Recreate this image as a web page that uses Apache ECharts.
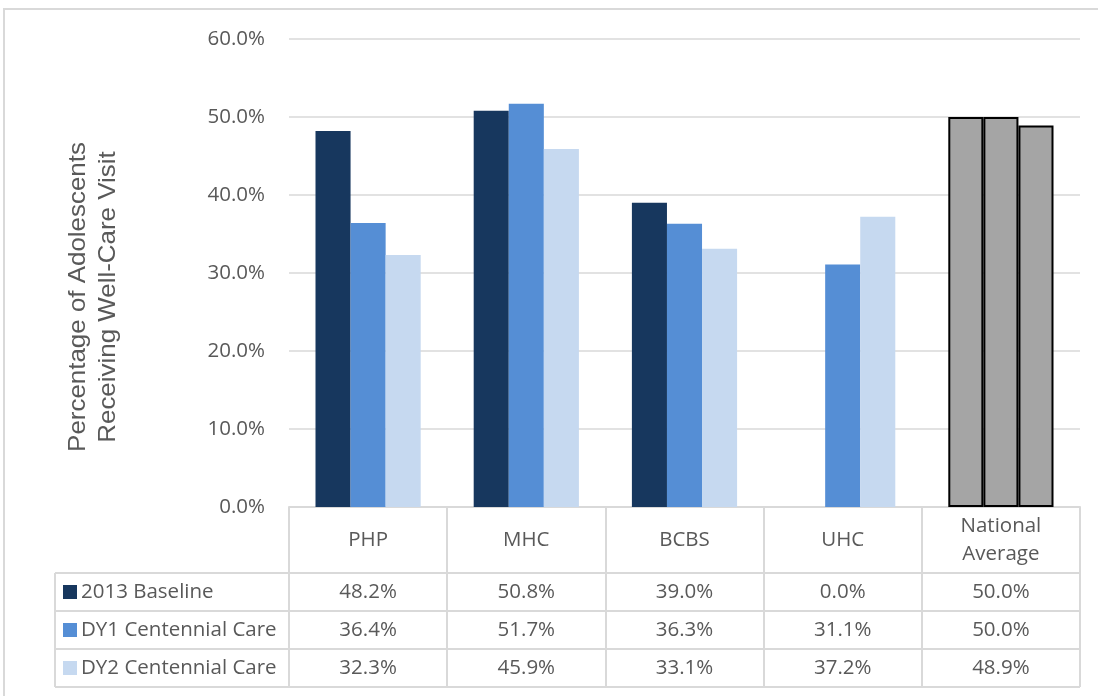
<!DOCTYPE html>
<html>
<head>
<meta charset="utf-8">
<script src="https://cdn.jsdelivr.net/npm/echarts@6/dist/echarts.min.js"></script>
<style>
  html, body { margin: 0; padding: 0; background: #fff; }
  #chart { width: 1098px; height: 696px; }
</style>
</head>
<body>
<div id="chart"></div>
<script>
// 类目
const categories = ['PHP', 'MHC', 'BCBS', 'UHC', 'National Average']
const seriesNames = ['2013 Baseline', 'DY1 Centennial Care', 'DY2 Centennial Care']
// 各系列数值
const baseline = [0.482, 0.508, 0.390, 0.0, 0.500]
const dy1 = [0.364, 0.517, 0.363, 0.311, 0.500]
const dy2 = [0.323, 0.459, 0.331, 0.372, 0.489]
const yTicks = [0, 0.1, 0.2, 0.3, 0.4, 0.5, 0.6]
const yTitle = 'Percentage of Adolescents\nReceiving Well-Care Visit'

const colors = ['#17375e', '#558ed5', '#c6d9f0']
const allValues = [baseline, dy1, dy2]
const textColor = '#595959'
const lineColor = '#d9d9d9'
const font = '"Open Sans", "Noto Sans", sans-serif'
const fontSize = 20.5

const pct = v => (v * 100).toFixed(1) + '%'

const grid = { left: 289, right: 18, top: 39, bottom: 189 }
const rowTop = 573
const rowH = 38

const chart = echarts.init(document.getElementById('chart'))

// 数据表的每一行用一个 x 轴来显示
const rowAxes = allValues.map((vals, i) => ({
  type: 'category',
  data: categories,
  position: 'bottom',
  offset: rowTop - (696 - grid.bottom) + rowH * i + rowH / 2,
  axisLine: { show: false },
  axisTick: { show: false },
  axisLabel: {
    interval: 0,
    margin: 0,
    verticalAlign: 'middle',
    color: textColor,
    fontSize: fontSize,
    fontFamily: font,
    formatter: (value, idx) => pct(vals[idx])
  }
}))

const series = allValues.map((vals, i) => ({
  name: seriesNames[i],
  type: 'bar',
  xAxisIndex: 0,
  barGap: 0,
  barCategoryGap: '33.5%',
  itemStyle: { color: colors[i] },
  data: vals.map((v, j) => {
    if (j === categories.length - 1) {
      return {
        value: v,
        itemStyle: { color: '#a5a5a5', borderColor: '#000', borderWidth: 2 }
      }
    }
    return v
  })
}))

// 表格横线
const tableLines = [0, 1, 2, 3].map(k => ({
  type: 'line',
  shape: { x1: 55, y1: rowTop + rowH * k, x2: 1098 - grid.right, y2: rowTop + rowH * k },
  style: { stroke: lineColor, lineWidth: 2 }
}))

chart.setOption({
  animation: false,
  grid: grid,
  legend: {
    orient: 'vertical',
    left: 63,
    top: rowTop + 7,
    padding: 0,
    itemWidth: 14,
    itemHeight: 14,
    itemGap: 14,
    icon: 'rect',
    selectedMode: false,
    textStyle: { color: textColor, fontSize: fontSize, fontFamily: font, lineHeight: 24, padding: [0, 0, 0, -1] },
    data: seriesNames
  },
  xAxis: [
    {
      type: 'category',
      data: categories,
      axisLine: { show: true, lineStyle: { color: lineColor, width: 2 } },
      axisTick: { show: true, length: 180, lineStyle: { color: lineColor, width: 2 } },
      axisLabel: {
        interval: 0,
        margin: 33,
        verticalAlign: 'middle',
        color: textColor,
        fontSize: fontSize,
        lineHeight: 28,
        fontFamily: font,
        formatter: value => (value.length > 10 ? value.replace(' ', '\n') : value)
      }
    }
  ].concat(rowAxes),
  yAxis: {
    type: 'value',
    min: yTicks[0],
    max: yTicks[yTicks.length - 1],
    interval: 0.1,
    axisLine: { show: false },
    axisTick: { show: false },
    axisLabel: {
      margin: 24,
      color: textColor,
      fontSize: fontSize,
      fontFamily: font,
      formatter: v => pct(v)
    },
    splitLine: { lineStyle: { color: lineColor, width: 1.5 } }
  },
  graphic: [
    {
      type: 'rect',
      shape: { x: 4, y: 9, width: 1200, height: 1000 },
      style: { fill: 'none', stroke: lineColor, lineWidth: 2 },
      silent: true
    },
    {
      type: 'line',
      shape: { x1: 55, y1: rowTop, x2: 55, y2: rowTop + rowH * 3 },
      style: { stroke: lineColor, lineWidth: 2 }
    },
    {
      type: 'text',
      x: 93,
      y: 297,
      rotation: Math.PI / 2,
      scaleX: 1.08,
      style: {
        text: yTitle,
        fill: textColor,
        font: '24px "Liberation Sans", Arial, sans-serif',
        lineHeight: 30,
        align: 'center',
        verticalAlign: 'middle'
      }
    }
  ].concat(tableLines),
  series: series
})
</script>
</body>
</html>
